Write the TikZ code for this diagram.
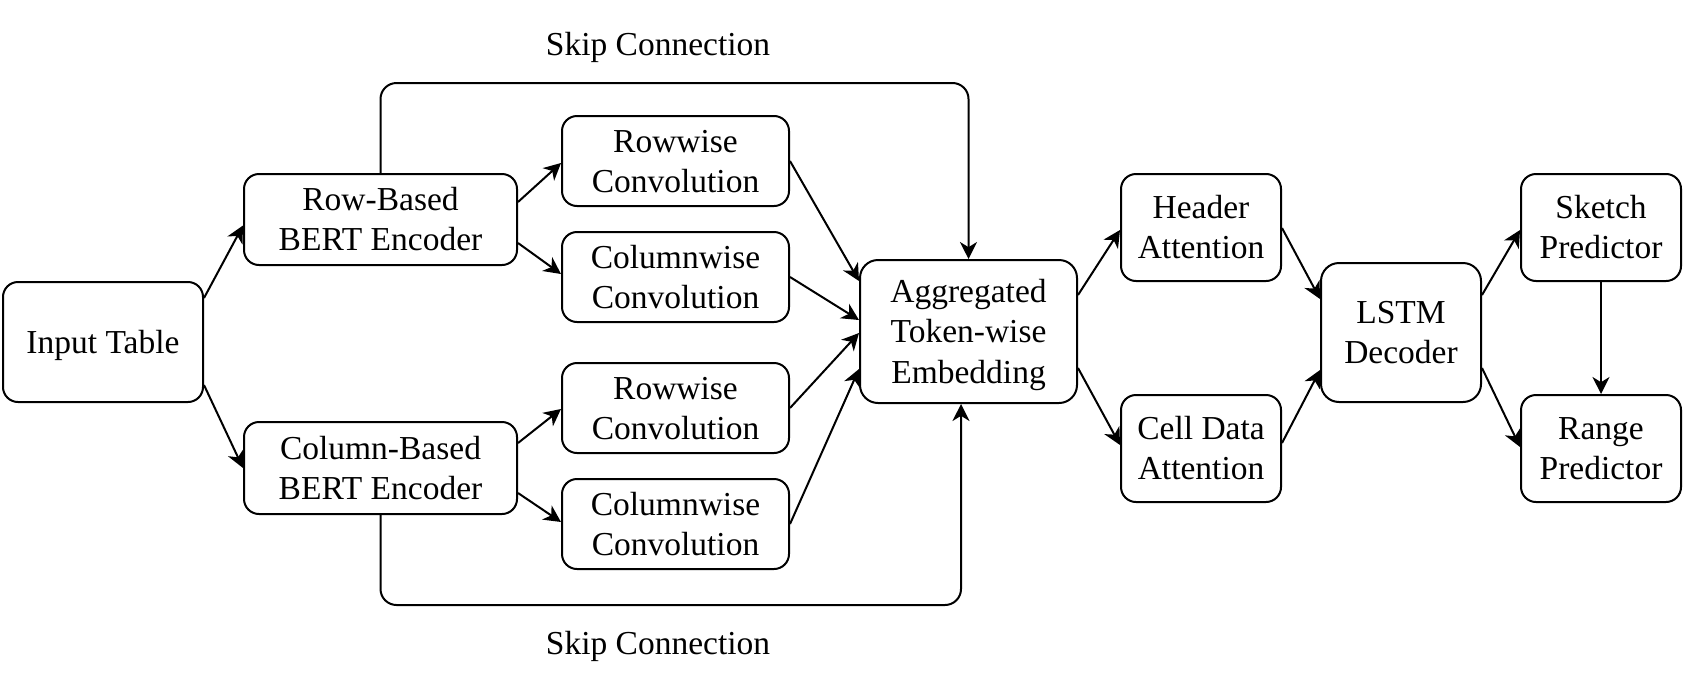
\documentclass[tikz,border=0pt]{standalone}
\usepackage{fontspec}
\setmainfont{Liberation Serif}
\usetikzlibrary{arrows.meta,calc}
\newcommand\topstrut{\rule{0pt}{15.7pt}}
\begin{document}
\begin{tikzpicture}[x=0.5pt,y=-0.5pt,
  box/.style={draw, line width=1pt, rounded corners=7.5pt, inner sep=0pt, align=center,
    font=\fontsize{16.75}{20.1}\selectfont,
    execute at end node={\rule[-4.4pt]{0pt}{4.4pt}}},
  lbl/.style={inner sep=0pt, font=\fontsize{16.75}{20.1}\selectfont},
  arr/.style={line width=1pt, -{Stealth[length=8.5pt,width=8.5pt,inset=2.6pt]}}]
\useasboundingbox (0,0) rectangle (1684,686);
\node[box, minimum width=100pt, minimum height=60pt] (in) at (103,342) {\topstrut Input Table};
\node[box, minimum width=136.5pt, minimum height=45.5pt] (row) at (380.5,219.5) {\topstrut Row-Based\\BERT Encoder};
\node[box, minimum width=136.5pt, minimum height=46pt] (col) at (380.5,468) {\topstrut Column-Based\\BERT Encoder};
\node[box, minimum width=113.5pt, minimum height=45pt] (rw1) at (675.5,161) {\topstrut Rowwise\\Convolution};
\node[box, minimum width=113.5pt, minimum height=45pt] (cw1) at (675.5,277) {\topstrut Columnwise\\Convolution};
\node[box, minimum width=113.5pt, minimum height=45pt] (rw2) at (675.5,408) {\topstrut Rowwise\\Convolution};
\node[box, minimum width=113.5pt, minimum height=45pt] (cw2) at (675.5,524) {\topstrut Columnwise\\Convolution};
\node[box, minimum width=108.5pt, minimum height=71.5pt, rounded corners=9pt] (agg) at (968.5,331.5) {\topstrut Aggregated\\Token-wise\\Embedding};
\node[box, minimum width=80pt, minimum height=53.5pt] (hdr) at (1201,227.5) {\topstrut Header\\Attention};
\node[box, minimum width=80pt, minimum height=53.5pt] (cell) at (1201,448.5) {\topstrut Cell Data\\Attention};
\node[box, minimum width=80pt, minimum height=69.5pt, rounded corners=9pt] (lstm) at (1401,332.5) {\topstrut LSTM\\Decoder};
\node[box, minimum width=80pt, minimum height=53.5pt] (sk) at (1601,227.5) {\topstrut Sketch\\Predictor};
\node[box, minimum width=80pt, minimum height=53.5pt] (rg) at (1601,448.5) {\topstrut Range\\Predictor};
\node[lbl] (skiptop) at (658,47) {Skip Connection};
\node[lbl] (skipbot) at (658,646) {Skip Connection};
\coordinate (topy) at (0,83);
\coordinate (bx) at (961,605);
% connectors
\draw[arr] ($(in.east)+(0,-44)$) -- ($(row.west)+(0,6)$);
\draw[arr] ($(in.east)+(0,43)$) -- (col.west);
\draw[arr] ($(row.east)+(0,-17.5)$) -- ($(rw1.west)+(0,2)$);
\draw[arr] ($(row.east)+(0,23.5)$) -- ($(cw1.west)+(0,-3)$);
\draw[arr] ($(col.east)+(0,-25)$) -- ($(rw2.west)+(0,1)$);
\draw[arr] ($(col.east)+(0,25)$) -- ($(cw2.west)+(0,-2)$);
\draw[arr] (rw1.east) -- ($(agg.west)+(0,-50.5)$);
\draw[arr] (cw1.east) -- ($(agg.west)+(0,-11.5)$);
\draw[arr] (rw2.east) -- ($(agg.west)+(0,1.5)$);
\draw[arr] (cw2.east) -- ($(agg.west)+(0,37.5)$);
\draw[arr] ($(agg.east)+(0,-36.5)$) -- ($(hdr.west)+(0,2.5)$);
\draw[arr] ($(agg.east)+(0,36.5)$) -- ($(cell.west)+(0,-3.5)$);
\draw[arr] ($(hdr.east)+(0,0.5)$) -- ($(lstm.west)+(0,-33.5)$);
\draw[arr] ($(cell.east)+(0,-5.5)$) -- ($(lstm.west)+(0,37.5)$);
\draw[arr] ($(lstm.east)+(0,-37.5)$) -- ($(sk.west)+(0,2.5)$);
\draw[arr] ($(lstm.east)+(0,35.5)$) -- ($(rg.west)+(0,-1.5)$);
\draw[arr] (sk.south) -- (rg.north);
\draw[arr, rounded corners=8pt] (row.north) -- (row.north |- topy) -- (agg.north |- topy) -- (agg.north);
\draw[arr, rounded corners=8pt] (col.south) -- (col.south |- bx) -- (bx) -- (bx |- agg.south);
\end{tikzpicture}
\end{document}
